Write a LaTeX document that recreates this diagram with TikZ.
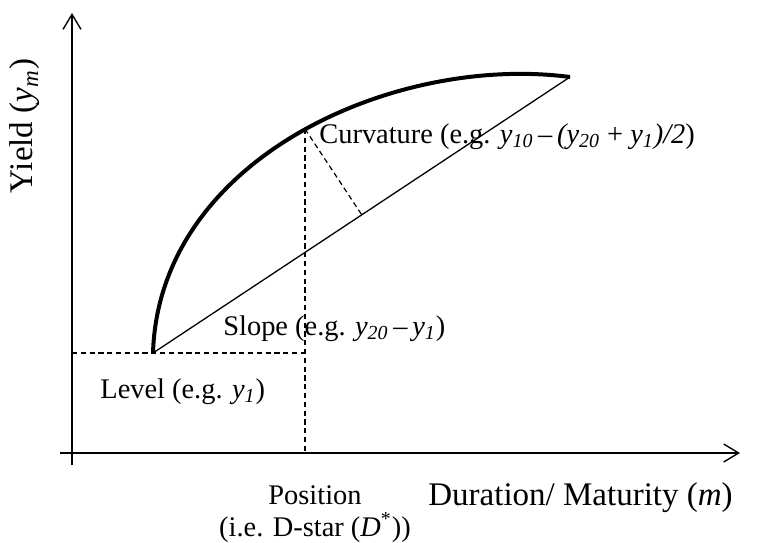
\documentclass[tikz,border=0pt]{standalone}
\usepackage{fontspec}
\setmainfont{Liberation Serif}
\usetikzlibrary{calc,arrows.meta}

\begin{document}
\begin{tikzpicture}[x=0.5pt, y=-0.5pt,
    axis/.style={line width=0.75pt, -{Straight Barb[length=7.5pt, width=9pt, line width=0.7pt]}},
    yieldcurve/.style={line width=2pt},
    chord/.style={line width=0.65pt},
    guide/.style={line width=0.6pt, dash pattern=on 2.6pt off 1.8pt},
    biglabel/.style={font=\fontsize{16.5}{19}\selectfont, inner sep=0pt},
    label/.style={font=\fontsize{14.2}{16}\selectfont, inner sep=0pt, align=center}]
    \useasboundingbox (0,0) rectangle (761,542);

    % axes
    \coordinate (ybot)  at (72,465);
    \coordinate (ytop)  at (72,13);
    \coordinate (xleft) at (60,453);
    \coordinate (xright) at (740,453);
    \draw[axis] (ybot) -- (ytop);
    \draw[axis] (xleft) -- (xright);

    % curve and its chord
    \coordinate (short) at (153,353);
    \coordinate (long)  at (570,77);
    \coordinate (mid)   at (305,129);
    \coordinate (foot)  at ($(short)!(mid)!(long)$);
    \coordinate (lvl)   at (short -| ybot);
    \coordinate (pos)   at (mid |- xleft);
    \draw[yieldcurve] (short) .. controls (159,158) and (395,54) .. (long);
    \draw[chord] (short) -- (long);

    % guides
    \draw[guide] (lvl) -- (short -| mid);
    \draw[guide] (mid) -- (pos);
    \draw[guide] (mid) -- (foot);

    % labels
    \node[biglabel, rotate=90] (ylab) at (25,126) {Yield (\textit{y\textsubscript{m}})};
    \node[biglabel, anchor=base west] (xlab) at (428,505) {Duration/ Maturity (\textit{m})};
    \node[label, anchor=base west] (curv) at (319,143)
        {Curvature (e.g. \textit{y\textsubscript{10}}\,--\,\textit{(y\textsubscript{20}} + \textit{y\textsubscript{1})/2})};
    \node[label, anchor=base west] (slope) at (223,335)
        {Slope (e.g. \textit{y\textsubscript{20}}\,--\,\textit{y\textsubscript{1}})};
    \node[label, anchor=base west] (level) at (100,398) {Level (e.g. \textit{y\textsubscript{1}})};
    \node[label] (position) at (315,514) {Position\\(i.e. D-star (\textit{D}\textsuperscript{*}))};
\end{tikzpicture}
\end{document}
